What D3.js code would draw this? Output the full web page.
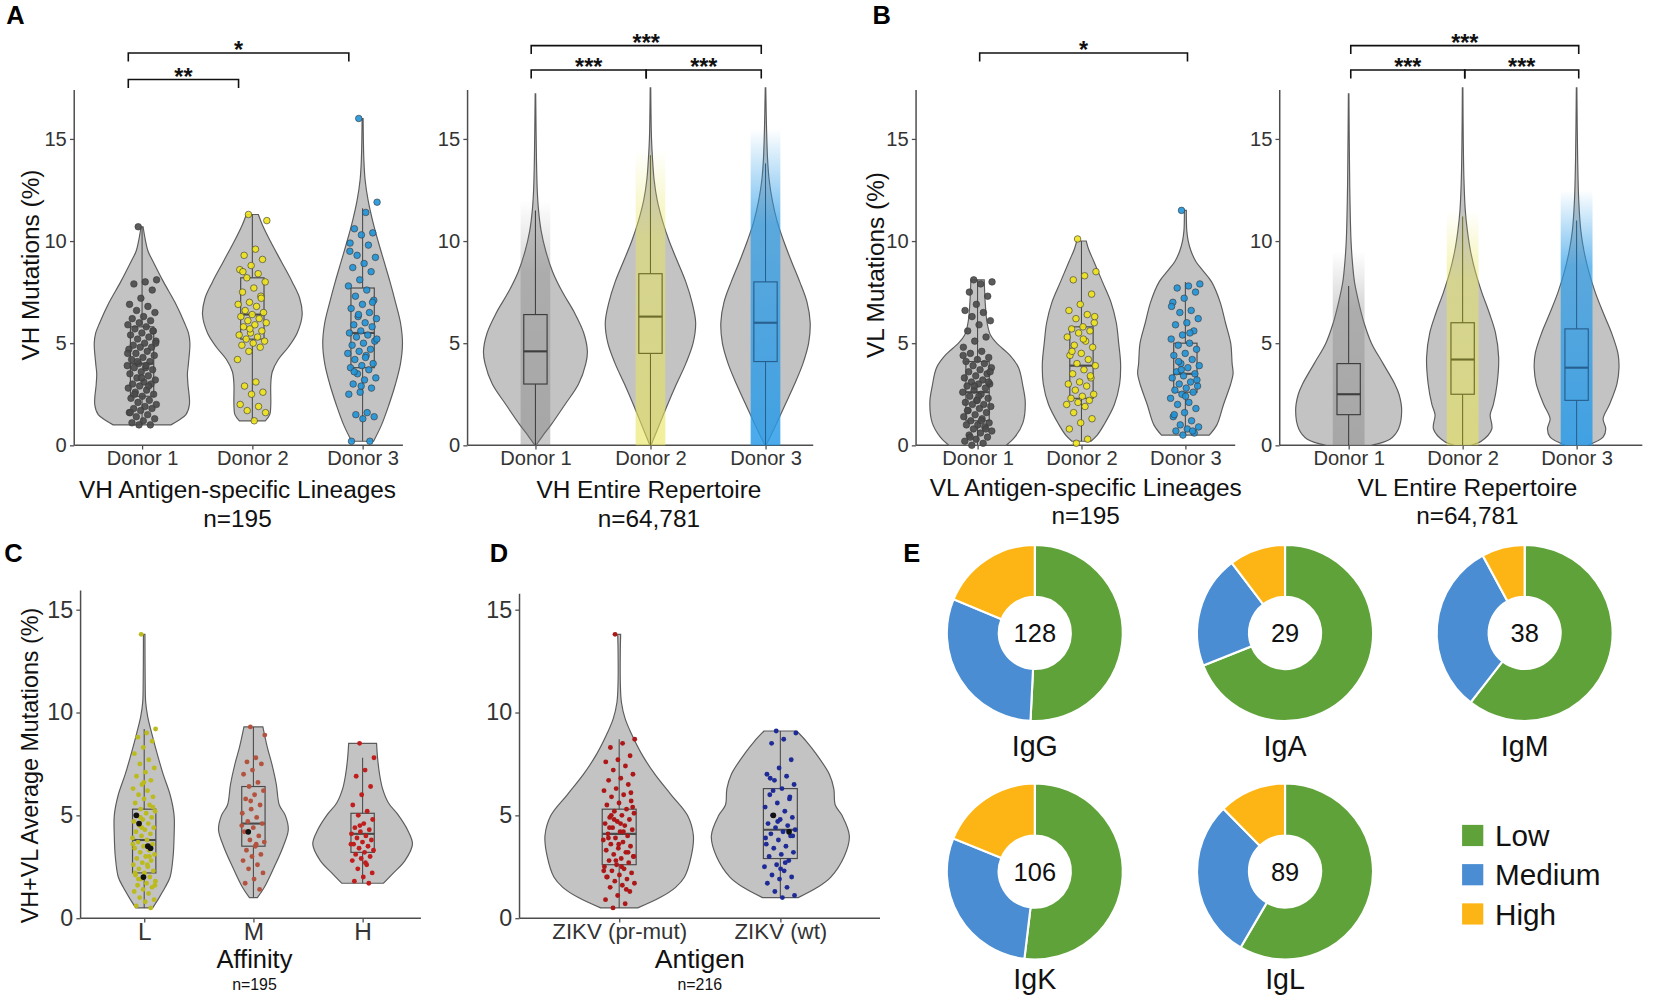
<!DOCTYPE html>
<html><head><meta charset="utf-8">
<script src="https://cdn.jsdelivr.net/npm/d3@7"></script>
<style>
body{margin:0;background:#fff}
text{font-family:"Liberation Sans",Arial,Helvetica,sans-serif}
</style>
</head><body>
<svg id="chart" width="1654" height="1000"></svg>
<script>
// ======================= DATA =======================
const donors = ["Donor 1", "Donor 2", "Donor 3"];
const affinities = ["L", "M", "H"];
const antigens = ["ZIKV (pr-mut)", "ZIKV (wt)"];
const yTicks = [0, 5, 10, 15];

// Violin density profiles: [mutation %, relative half-width]
const vhAgProfiles = [
  [[1.0,0.58],[1.2,0.72],[1.5,0.88],[2,0.95],[3,0.92],[3.5,0.91],[4,0.93],[5,0.96],[5.5,0.93],[6,0.85],[7,0.66],[8,0.43],[9,0.22],[9.5,0.12],[10,0.07],[10.7,0.02]],
  [[1.2,0.26],[1.5,0.35],[2,0.37],[3,0.37],[3.6,0.4],[4.2,0.52],[4.8,0.72],[5.5,0.9],[6.4,1.0],[7.2,0.95],[8,0.8],[9,0.58],[10,0.36],[10.8,0.2],[11.3,0.12]],
  [[0.2,0.22],[1,0.38],[2,0.53],[3,0.66],[4,0.76],[5,0.8],[6,0.76],[7,0.66],[8,0.55],[9,0.43],[10,0.31],[11,0.2],[12,0.11],[13,0.05],[14,0.025],[15,0.015],[16,0.01]]
];
const vhRepProfiles = [
  [[0,0.01],[0.5,0.15],[1,0.3],[2,0.57],[3,0.83],[4,0.97],[4.6,1.0],[5.5,0.93],[6.5,0.75],[7.5,0.52],[8.5,0.33],[9.5,0.2],[10.5,0.11],[11.5,0.06],[12.5,0.035],[14,0.02],[17.2,0.005]],
  [[0,0.01],[1,0.17],[2,0.33],[3,0.5],[4,0.68],[5,0.82],[6,0.87],[7,0.8],[8,0.68],[9,0.52],[10,0.36],[11,0.23],[12,0.13],[13,0.07],[14,0.04],[15,0.02],[17.5,0.005]],
  [[0,0.01],[1,0.2],[2,0.38],[3,0.56],[4,0.72],[5,0.83],[6,0.86],[7,0.8],[8,0.66],[9,0.5],[10,0.35],[11,0.22],[12,0.13],[13,0.07],[14,0.04],[15.5,0.02],[17.5,0.005]]
];
const vlAgProfiles = [
  [[0,0.6],[0.4,0.78],[1.1,0.95],[2.1,1.0],[2.9,0.95],[3.8,0.86],[4.4,0.68],[5,0.4],[5.4,0.27],[6,0.2],[7,0.16],[8.1,0.14]],
  [[0.2,0.2],[0.5,0.33],[1,0.47],[2,0.69],[3,0.8],[4,0.82],[5,0.78],[6,0.73],[7,0.62],[8,0.44],[9,0.26],[9.6,0.15],[10,0.1]],
  [[0.5,0.5],[1,0.66],[2,0.8],[3,0.95],[3.5,1.0],[4,0.98],[5,0.95],[6,0.84],[7,0.73],[8,0.55],[8.6,0.35],[9,0.22],[9.5,0.12],[10,0.06],[10.5,0.03],[11.5,0.02]]
];
const vlRepProfiles = [
  [[0,0.42],[0.3,0.78],[0.8,0.94],[1.7,1.0],[2.5,0.95],[3,0.87],[4,0.65],[5,0.43],[6,0.29],[7,0.19],[8,0.11],[9,0.07],[10,0.045],[12,0.025],[14,0.015],[17.2,0.005]],
  [[0,0.15],[0.2,0.35],[0.8,0.55],[1.5,0.52],[2,0.58],[3,0.65],[4.3,0.68],[5.5,0.62],[6.5,0.5],[7.5,0.36],[8.5,0.24],[9.5,0.15],[10.5,0.09],[11.5,0.05],[13,0.025],[15,0.012],[17.5,0.005]],
  [[0,0.2],[0.4,0.5],[0.8,0.55],[1.3,0.5],[2,0.62],[3,0.76],[3.8,0.8],[4.5,0.78],[5.5,0.66],[6.5,0.5],[7.5,0.35],[8.5,0.23],[9.5,0.14],[10.5,0.08],[12,0.04],[14,0.02],[17.5,0.005]]
];
const affProfiles = [
  [[0.5,0.17],[1,0.3],[1.5,0.42],[2,0.52],[3,0.58],[4,0.6],[5,0.6],[6,0.52],[7,0.38],[8,0.26],[9,0.15],[9.8,0.07],[10.5,0.03],[11.5,0.02],[13.8,0.015]],
  [[1.0,0.08],[1.5,0.22],[2.5,0.42],[3.5,0.6],[4.3,0.7],[5,0.64],[5.5,0.52],[6.5,0.46],[7.5,0.37],[8.3,0.28],[9.3,0.19]],
  [[1.7,0.42],[2.2,0.62],[2.8,0.85],[3.6,1.0],[4.3,0.9],[5,0.72],[5.6,0.52],[6.3,0.4],[7,0.34],[7.8,0.3],[8.5,0.28]]
];
const agProfiles = [
  [[0.5,0.25],[1,0.55],[1.5,0.76],[2,0.88],[3,0.97],[4,1.0],[5,0.92],[6,0.7],[7,0.48],[8,0.3],[9,0.16],[9.7,0.08],[10.5,0.03],[11.5,0.015],[13,0.015],[13.8,0.02]],
  [[1.0,0.24],[1.5,0.5],[2,0.68],[3,0.86],[4,0.93],[5,0.83],[5.5,0.74],[6.3,0.72],[7,0.66],[8,0.48],[8.6,0.35],[9.1,0.22]]
];

// Box stats: [lower whisker, Q1, median, Q3, upper whisker]
const vhAgBoxes  = [[1.0,2.4,4.0,5.8,10.7],[1.2,5.2,6.4,8.2,11.3],[0.2,3.8,5.5,7.7,11.6]];
const vhRepBoxes = [[0,3.0,4.6,6.4,11.5],[0,4.5,6.3,8.4,14.2],[0,4.1,6.0,8.0,13.8]];
const vlAgBoxes  = [[0,1.2,2.6,4.1,8.1],[0.2,2.3,3.9,5.8,10.0],[0.5,2.6,3.5,5.0,8.0]];
const vlRepBoxes = [[0,1.5,2.5,4.0,7.8],[0,2.5,4.2,6.0,11.2],[0,2.2,3.8,5.7,11.0]];
const affBoxes   = [[0.5,2.2,3.8,5.3,9.2],[1.0,3.5,4.6,6.4,9.3],[1.7,3.2,4.1,5.1,7.8]];
const agBoxes    = [[0.5,2.6,4.1,5.3,8.7],[1.0,2.9,4.3,6.3,9.1]];

// Upper extent of the dense repertoire point strips
const vhRepStripTop = [12, 14.5, 15.5];
const vlRepStripTop = [9.5, 11.5, 12.5];

// Individual lineage values (jittered points)
const vhAgD1 = [10.7,8.1,8.0,7.9,7.6,7.2,6.9,6.8,6.6,6.5,6.3,6.2,6.1,6.0,5.9,5.8,5.7,5.6,5.5,5.4,5.3,5.2,5.1,5.0,4.9,4.8,4.8,4.7,4.6,4.5,4.4,4.3,4.2,4.1,4.0,3.9,3.8,3.8,3.7,3.6,3.5,3.4,3.3,3.2,3.1,3.0,3.0,2.9,2.8,2.7,2.6,2.5,2.4,2.3,2.2,2.1,2.0,1.9,1.8,1.8,1.7,1.6,1.5,1.4,1.3,1.2,1.1,1.0,1.0,4.5,3.9,2.5,5.6,3.3,1.6,2.9,4.1,5.0];
const vhAgD2 = [11.3,11.0,9.6,9.3,9.1,8.8,8.6,8.4,8.2,8.0,7.7,7.5,7.3,7.0,6.9,6.8,6.6,6.5,6.4,6.3,6.2,6.1,6.0,5.9,5.8,5.6,5.5,5.4,5.3,5.2,5.1,5.0,4.9,4.8,4.6,4.2,3.1,2.9,2.6,2.5,2.0,1.9,1.7,1.6,1.2,8.5,7.2,5.7];
const vhAgD3 = [16.0,11.9,11.4,10.6,10.4,10.3,9.9,9.8,9.3,9.2,8.9,8.7,8.5,8.1,7.8,7.6,7.3,7.1,6.9,6.7,6.5,6.3,6.2,6.0,5.9,5.8,5.6,5.5,5.4,5.3,5.1,5.0,4.9,4.7,4.6,4.5,4.4,4.2,4.0,3.9,3.8,3.7,3.5,3.3,3.2,3.0,2.8,2.6,2.5,1.6,1.5,1.4,1.3,0.2,0.2,6.4,5.2,4.3,3.6,7.0,2.9,9.5];
const vlAgD1 = [8.1,8.0,7.9,7.5,7.3,6.9,6.6,6.5,6.3,6.1,5.9,5.6,5.3,5.1,4.8,4.6,4.5,4.3,4.2,4.1,4.0,3.9,3.8,3.7,3.6,3.5,3.4,3.3,3.2,3.1,3.0,3.0,2.9,2.8,2.7,2.6,2.5,2.4,2.3,2.2,2.1,2.0,2.0,1.9,1.8,1.7,1.6,1.5,1.4,1.3,1.2,1.1,1.0,1.0,0.9,0.8,0.7,0.6,0.5,0.4,0.3,0.2,0.1,0.0,3.6,2.4,1.7,0.8,2.9,4.4,1.2,0.4,3.1,2.2];
const vlAgD2 = [10.1,8.5,8.3,8.1,7.4,6.9,6.6,6.4,6.2,6.0,5.8,5.7,5.6,5.5,5.3,5.1,4.9,4.8,4.5,4.4,4.2,4.0,3.9,3.7,3.5,3.3,3.1,3.0,2.9,2.7,2.5,2.4,2.3,2.2,2.1,2.0,1.9,1.6,1.3,1.1,0.8,0.3,0.1,6.3,5.2,4.6,3.4];
const vlAgD3 = [11.5,7.9,7.8,7.7,7.5,7.2,7.0,6.6,6.5,6.2,6.0,5.9,5.6,5.4,5.2,5.0,4.9,4.7,4.5,4.4,4.2,4.0,3.9,3.8,3.6,3.5,3.4,3.3,3.1,3.0,2.9,2.8,2.7,2.6,2.5,2.3,2.1,2.0,1.8,1.6,1.4,1.2,1.0,0.9,0.8,0.7,0.6,0.5,6.8,5.5,4.1,3.2,2.4,1.5,0.7,3.7];
const affL = [13.8,9.2,9.0,8.8,8.6,8.3,8.0,7.7,7.5,7.3,7.1,6.9,6.7,6.5,6.3,6.2,6.0,5.9,5.8,5.6,5.5,5.3,5.2,5.1,5.0,4.9,4.8,4.7,4.6,4.5,4.4,4.3,4.2,4.1,4.0,3.9,3.8,3.7,3.6,3.5,3.4,3.3,3.2,3.1,3.0,2.9,2.8,2.7,2.6,2.5,2.4,2.3,2.2,2.1,2.0,1.9,1.8,1.7,1.6,1.5,1.4,1.3,1.2,1.0,0.9,0.8,0.6,0.5,4.4,3.6,2.6,1.9,5.4,6.6,2.2,3.0,4.9,1.6];
const affM = [9.3,8.9,7.8,7.6,7.5,7.2,7.0,6.6,6.4,6.2,6.0,5.8,5.5,5.3,5.1,4.9,4.7,4.6,4.4,4.2,4.0,3.8,3.7,3.5,3.3,3.1,3.0,2.8,2.6,2.4,2.2,1.9,1.7,1.4,5.7,4.5,3.6];
const affH = [8.5,7.8,7.2,6.9,6.4,6.0,5.5,5.2,5.0,4.8,4.6,4.4,4.3,4.2,4.1,4.0,3.9,3.8,3.7,3.6,3.5,3.4,3.3,3.2,3.1,3.0,2.9,2.8,2.6,2.4,2.2,2.0,1.8,1.7,4.5,3.6,2.7];
const affBlack = [[4.6,3.4,2.0,5.0,3.5],[4.2],[]];
const agPrMut = [13.8,8.7,8.5,8.3,7.9,7.7,7.6,7.4,7.2,7.0,6.8,6.7,6.5,6.3,6.2,6.0,5.9,5.7,5.6,5.5,5.3,5.2,5.1,5.0,4.9,4.8,4.7,4.6,4.5,4.4,4.3,4.2,4.1,4.0,3.9,3.8,3.7,3.6,3.5,3.4,3.3,3.2,3.1,3.0,2.9,2.8,2.7,2.6,2.5,2.4,2.3,2.2,2.1,2.0,1.9,1.8,1.7,1.6,1.5,1.3,1.1,0.9,0.7,0.5,5.4,4.6,3.9,3.2,2.8,2.3,4.2,5.0,6.1,3.6,2.0,1.4,4.8,3.0,2.5,4.4];
const agWt = [9.1,9.0,8.7,8.5,7.7,7.3,7.0,6.9,6.7,6.5,6.3,6.0,5.8,5.6,5.4,5.2,5.0,4.9,4.8,4.6,4.5,4.4,4.3,4.2,4.1,4.0,3.8,3.6,3.5,3.4,3.2,3.1,3.0,2.8,2.6,2.5,2.3,2.1,2.0,1.9,1.7,1.5,1.3,1.1,1.0,6.8,5.9,4.7,3.9,2.7,6.2,4.0,2.4];
const agBlack = [[], [5.0,4.2]];

// Significance comparisons: [group A, group B, label]
const vhAgSig  = [["Donor 1","Donor 3","*"],["Donor 1","Donor 2","**"]];
const vhRepSig = [["Donor 1","Donor 3","***"],["Donor 1","Donor 2","***"],["Donor 2","Donor 3","***"]];
const vlAgSig  = [["Donor 1","Donor 3","*"]];
const vlRepSig = [["Donor 1","Donor 3","***"],["Donor 1","Donor 2","***"],["Donor 2","Donor 3","***"]];

// Panel E: isotype affinity composition
const isotypes = ["IgG","IgA","IgM","IgK","IgL"];
const levels = ["Low","Medium","High"];
const lowCounts  = [65, 20, 23, 55, 52];
const medCounts  = [39, 6, 12, 31, 26];
const highCounts = [24, 3, 3, 20, 11];

// ======================= DRAWING =======================
const S = 1654 / 1560;
const root = d3.select("#chart").append("g").attr("transform", `scale(${S})`);
const defs = d3.select("#chart").append("defs");
const AX = "#4d4d4d", TICK_TXT = "#333", TITLE = "#111";
let gradId = 0;

function stripGradient(color, op) {
  const id = "sg" + (gradId++);
  const lg = defs.append("linearGradient").attr("id", id).attr("x1", 0).attr("x2", 0).attr("y1", 0).attr("y2", 1);
  lg.append("stop").attr("offset", "0%").attr("stop-color", color).attr("stop-opacity", 0);
  lg.append("stop").attr("offset", "30%").attr("stop-color", color).attr("stop-opacity", op * 0.8);
  lg.append("stop").attr("offset", "100%").attr("stop-color", color).attr("stop-opacity", op);
  return id;
}

function jitter(i, w) { return (((i * 0.6180339887 + 0.37) % 1) - 0.5) * 2 * w; }

function violinPanel(p) {
  const G = root.append("g");
  const y = d3.scaleLinear().domain([0, 15]).range(p.yr);
  const x = d3.scalePoint().domain(p.cats).range(p.xr);
  G.append("line").attr("x1", p.ax).attr("x2", p.ax).attr("y1", p.ytop).attr("y2", y(0))
    .attr("stroke", AX).attr("stroke-width", 1.4);
  G.append("line").attr("x1", p.ax).attr("x2", p.xend).attr("y1", y(0)).attr("y2", y(0))
    .attr("stroke", AX).attr("stroke-width", 1.4);
  const ya = G.append("g").attr("transform", `translate(${p.ax},0)`)
    .call(d3.axisLeft(y).tickValues(yTicks).tickSize(4).tickSizeOuter(0).tickPadding(3));
  ya.select(".domain").remove();
  ya.selectAll("line").attr("stroke", AX).attr("stroke-width", 1.2);
  ya.selectAll("text").attr("font-size", p.tickFs).attr("fill", TICK_TXT)
    .style("font-family", '"Liberation Sans",Arial,sans-serif');
  const xa = G.append("g").attr("transform", `translate(0,${y(0)})`)
    .call(d3.axisBottom(x).tickSize(4).tickPadding(p.xpad));
  xa.select(".domain").remove();
  xa.selectAll("line").attr("stroke", AX).attr("stroke-width", 1.2);
  xa.selectAll("text").attr("font-size", p.xFs).attr("fill", TICK_TXT)
    .style("font-family", '"Liberation Sans",Arial,sans-serif');

  p.cats.forEach((c, i) => {
    const cx = x(c);
    const area = d3.area().curve(d3.curveCatmullRom.alpha(0.5))
      .y(d => y(d[0])).x0(d => cx - d[1] * p.vw).x1(d => cx + d[1] * p.vw);
    G.append("path").datum(p.profiles[i]).attr("d", area)
      .attr("fill", "#c3c3c3").attr("stroke", "#5c5c5c").attr("stroke-width", 1.1);
    if (p.strips) {
      const id = stripGradient(p.stripCol[i], p.stripOp[i]);
      G.append("rect").attr("x", cx - p.sw).attr("width", 2 * p.sw)
        .attr("y", y(p.strips[i])).attr("height", y(0) - y(p.strips[i]))
        .attr("fill", `url(#${id})`);
    }
    const b = p.boxes[i];
    const bs = p.boxStroke ? p.boxStroke[i] : "#4a4a4a";
    G.append("line").attr("x1", cx).attr("x2", cx).attr("y1", y(b[0])).attr("y2", y(b[1]))
      .attr("stroke", bs).attr("stroke-width", 1);
    G.append("line").attr("x1", cx).attr("x2", cx).attr("y1", y(b[3])).attr("y2", y(b[4]))
      .attr("stroke", bs).attr("stroke-width", 1);
    G.append("rect").attr("x", cx - p.bw).attr("width", 2 * p.bw)
      .attr("y", y(b[3])).attr("height", y(b[1]) - y(b[3]))
      .attr("fill", "none").attr("stroke", bs).attr("stroke-width", 1.1);
    G.append("line").attr("x1", cx - p.bw).attr("x2", cx + p.bw).attr("y1", y(b[2])).attr("y2", y(b[2]))
      .attr("stroke", bs).attr("stroke-width", 2);
    if (p.points) {
      G.append("g").selectAll("circle").data(p.points[i]).join("circle")
        .attr("cx", (d, k) => cx + jitter(k, p.jw)).attr("cy", d => y(d)).attr("r", p.pr)
        .attr("fill", p.pcol[i]).attr("fill-opacity", p.pop || 1)
        .attr("stroke", p.pstroke || "none").attr("stroke-width", 0.6);
    }
    if (p.black && p.black[i].length) {
      G.append("g").selectAll("circle").data(p.black[i]).join("circle")
        .attr("cx", (d, k) => cx + jitter(k + 3, p.jw * 0.8)).attr("cy", d => y(d)).attr("r", p.pr + 0.4)
        .attr("fill", "#111");
    }
  });

  if (p.sig) {
    p.sig.forEach((s, k) => {
      const lvl = k === 0 ? 0 : 1;
      const by = p.bry[lvl];
      const x1 = x(s[0]) + p.boff, x2 = x(s[1]) + p.boff;
      G.append("path").attr("d", `M${x1},${by + 8}V${by}H${x2}V${by + 8}`)
        .attr("fill", "none").attr("stroke", "#111").attr("stroke-width", 1.5);
      G.append("text").attr("x", (x1 + x2) / 2).attr("y", by + 5).attr("text-anchor", "middle")
        .attr("font-size", 22).attr("font-weight", "bold").attr("fill", "#111").text(s[2]);
    });
  }
  if (p.ytitle) {
    G.append("text").attr("transform", `translate(${p.ytx},${p.yty}) rotate(-90)`)
      .attr("text-anchor", "middle").attr("dominant-baseline", "central")
      .attr("font-size", p.ytFs).attr("fill", TITLE).text(p.ytitle);
  }
  G.append("text").attr("x", p.tx).attr("y", p.ty[0]).attr("text-anchor", "middle")
    .attr("font-size", p.titleFs).attr("fill", TITLE).text(p.title);
  G.append("text").attr("x", p.tx).attr("y", p.ty[1]).attr("text-anchor", "middle")
    .attr("font-size", p.nFs).attr("fill", TITLE).text(p.n);
}

const donorCols = ["#4a4a4a", "#f0e41a", "#1f93d8"];
const repStripCols = ["#7c7c7c", "#e8e55a", "#2a9be8"];
const repStripOps = [0.4, 0.6, 0.85];
const repBoxStroke = ["#3e3e3e", "#6e6e2a", "#27608f"];

violinPanel({cats: donors, ax: 70, xend: 380, xr: [134, 342], yr: [420, 131], ytop: 85, vw: 47,
  profiles: vhAgProfiles, boxes: vhAgBoxes, points: [vhAgD1, vhAgD2, vhAgD3], pcol: donorCols, pop: 0.9,
  pstroke: "#3a3a3a", pr: 3.1, jw: 14, bw: 11, sig: vhAgSig, bry: [50, 75], boff: -13,
  ytitle: "VH Mutations (%)", ytx: 29, yty: 250, ytFs: 23, title: "VH Antigen-specific Lineages", n: "n=195",
  tx: 224, ty: [470, 497], tickFs: 19, xFs: 19, xpad: 1, titleFs: 23, nFs: 23});

violinPanel({cats: donors, ax: 441, xend: 767, xr: [505, 722], yr: [420, 131], ytop: 85, vw: 49,
  profiles: vhRepProfiles, boxes: vhRepBoxes, strips: vhRepStripTop, stripCol: repStripCols, stripOp: repStripOps,
  sw: 14, boxStroke: repBoxStroke, bw: 11, sig: vhRepSig, bry: [43, 66], boff: -4,
  title: "VH Entire Repertoire", n: "n=64,781", tx: 612, ty: [470, 497], tickFs: 19, xFs: 19, xpad: 1, titleFs: 23, nFs: 23});

violinPanel({cats: donors, ax: 864, xend: 1165, xr: [922, 1118], yr: [420, 131], ytop: 85, vw: 45,
  profiles: vlAgProfiles, boxes: vlAgBoxes, points: [vlAgD1, vlAgD2, vlAgD3], pcol: donorCols, pop: 0.9,
  pstroke: "#3a3a3a", pr: 3.1, jw: 14, bw: 11, sig: vlAgSig, bry: [50], boff: 2,
  ytitle: "VL Mutations (%)", ytx: 826, yty: 250, ytFs: 23, title: "VL Antigen-specific Lineages", n: "n=195",
  tx: 1024, ty: [468, 494], tickFs: 19, xFs: 19, xpad: 1, titleFs: 23, nFs: 23});

violinPanel({cats: donors, ax: 1207, xend: 1549, xr: [1272, 1487], yr: [420, 131], ytop: 85, vw: 50,
  profiles: vlRepProfiles, boxes: vlRepBoxes, strips: vlRepStripTop, stripCol: repStripCols, stripOp: repStripOps,
  sw: 15, boxStroke: repBoxStroke, bw: 11, sig: vlRepSig, bry: [43, 66], boff: 2,
  title: "VL Entire Repertoire", n: "n=64,781", tx: 1384, ty: [468, 494], tickFs: 19, xFs: 19, xpad: 1, titleFs: 23, nFs: 23});

violinPanel({cats: affinities, ax: 76, xend: 397, xr: [136, 342], yr: [866, 575], ytop: 557, vw: 47,
  profiles: affProfiles, boxes: affBoxes, points: [affL, affM, affH], pcol: ["#bbbb1e", "#b3533f", "#c21d1d"],
  pr: 2.3, jw: 11, bw: 11, black: affBlack,
  ytitle: "VH+VL Average Mutations (%)", ytx: 28, yty: 722, ytFs: 22, title: "Affinity", n: "n=195",
  tx: 240, ty: [913, 934], tickFs: 22, xFs: 23, xpad: 0, titleFs: 24, nFs: 15});

violinPanel({cats: antigens, ax: 490, xend: 830, xr: [584, 736], yr: [866, 575], ytop: 560, vw: 70,
  profiles: agProfiles, boxes: agBoxes, points: [agPrMut, agWt], pcol: ["#ad1717", "#1e2b96"],
  pr: 2.3, jw: 15, bw: 16, black: agBlack,
  title: "Antigen", n: "n=216", tx: 660, ty: [913, 934], tickFs: 22, xFs: 21, xpad: 1, titleFs: 25, nFs: 15});

// Panel letters
[["A", 6, 23], ["B", 823, 23], ["C", 4, 530], ["D", 462, 530], ["E", 852, 530]].forEach(l => {
  root.append("text").attr("x", l[1]).attr("y", l[2]).attr("font-size", 24).attr("font-weight", "bold")
    .attr("fill", "#000").text(l[0]);
});

// Panel E donuts
const levelColor = d3.scaleOrdinal().domain(levels).range(["#5fa23a", "#4a8dd2", "#fdb515"]);
const donutPos = [[976, 597], [1212, 597], [1438, 597], [976, 822], [1212, 822]];
const labelDy = [116, 116, 116, 111, 111];
const pie = d3.pie().sort(null).value(d => d.v);
const arc = d3.arc().innerRadius(34).outerRadius(83);
isotypes.forEach((iso, i) => {
  const vals = [lowCounts[i], medCounts[i], highCounts[i]];
  const data = levels.map((l, k) => ({l, v: vals[k]}));
  const g = root.append("g").attr("transform", `translate(${donutPos[i][0]},${donutPos[i][1]})`);
  g.selectAll("path").data(pie(data)).join("path").attr("d", arc)
    .attr("fill", d => levelColor(d.data.l)).attr("stroke", "#fff").attr("stroke-width", 2);
  g.append("text").attr("text-anchor", "middle").attr("dominant-baseline", "central")
    .attr("font-size", 24).attr("fill", "#111").text(d3.sum(vals));
  g.append("text").attr("y", labelDy[i]).attr("text-anchor", "middle").attr("font-size", 27)
    .attr("fill", "#111").text(iso);
});
// legend
const lg = root.append("g");
levels.forEach((l, k) => {
  const cy = 788 + k * 37;
  lg.append("rect").attr("x", 1379).attr("y", cy - 10).attr("width", 20).attr("height", 20)
    .attr("fill", levelColor(l));
  lg.append("text").attr("x", 1410).attr("y", cy + 10).attr("font-size", 28).attr("fill", "#111").text(l);
});
</script>
</body></html>
